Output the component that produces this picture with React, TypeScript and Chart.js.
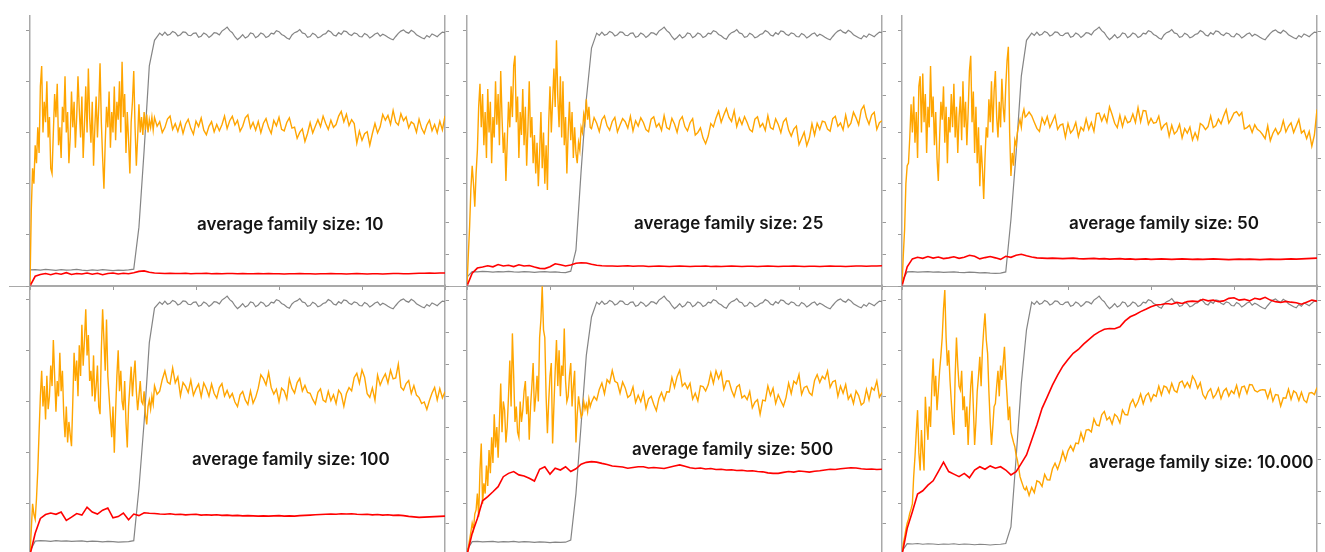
import React, { useEffect, useRef } from "react";
import { Chart, registerables } from "chart.js";

Chart.register(...registerables);

// ---------- axis ticks ----------
const X_TICKS = [0, 200, 400, 600, 800, 1000];
const LEFT_TICKS = [0, 20, 40, 60, 80, 100];
const RIGHT_TICKS = [0, 1, 2, 3, 4, 5, 6, 7, 8];

// ---------- panel labels ----------
const LABELS = [
  "average family size: 10",
  "average family size: 25",
  "average family size: 50",
  "average family size: 100",
  "average family size: 500",
  "average family size: 10.000",
];

// ---------- sampling of the series along the x axis (0..1000) ----------
const RED_STEP = 12.5;
const GREY_EARLY_STEP = 12.5;
const GREY_PLATEAU_START = 312.5;
const GREY_PLATEAU_STEP = 6.25;
const ORANGE_EARLY_STEP = 3.125;
const ORANGE_LATE_START = 300;
const ORANGE_LATE_STEP = 6.25;

// ---------- grey series ----------
const GREY_PLATEAU = [
  98.8, 97.9, 99.2, 98.0, 98.4, 99.5, 99.0, 97.7, 98.2, 99.3,
  99.1, 98.0, 97.8, 98.7, 98.9, 97.2, 97.6, 98.9, 98.3, 97.1,
  97.9, 99.0, 98.8, 98.1, 99.6, 100.3, 101.2, 99.8, 99.0, 97.4,
  96.3, 97.1, 98.2, 96.9, 97.5, 98.9, 98.6, 97.0, 97.7, 98.9,
  98.4, 97.1, 97.6, 98.8, 98.5, 99.8, 99.4, 98.3, 97.8, 96.9,
  96.4, 98.1, 99.0, 99.4, 100.2, 98.9, 98.6, 97.2, 97.5, 98.8,
  98.2, 97.0, 97.4, 98.3, 98.6, 99.8, 99.3, 98.1, 97.7, 99.0,
  98.3, 99.7, 99.4, 98.4, 97.9, 98.9, 98.6, 97.5, 97.4, 98.7,
  98.1, 96.9, 97.6, 98.5, 98.9, 97.6, 98.4, 97.9, 97.2, 96.6,
  96.2, 97.5, 98.7, 99.6, 100.1, 99.2, 98.8, 99.9, 99.3, 98.2,
  97.6, 97.0, 96.6, 97.9, 97.2, 98.5, 98.0, 97.4, 98.4, 99.2,
  99.0,
];
const GREY_EARLY_10 = [6.3, 6.4, 6.2, 6.5, 6.3, 6.1, 6.4, 6.2, 6.3, 6.5, 6.2, 6.0, 6.3, 6.1, 6.4, 6.2, 6.0, 6.2, 6.1, 6.3, 6.6, 23, 53, 86, 96];
const GREY_EARLY_25 = [3.5, 5.6, 5.5, 5.7, 5.6, 5.4, 5.6, 5.5, 5.7, 5.5, 5.4, 5.6, 5.5, 5.3, 5.5, 5.6, 5.4, 5.5, 5.3, 5.2, 5.8, 14, 45, 73, 93];
const GREY_EARLY_50 = [2.0, 5.5, 5.6, 5.4, 5.5, 5.6, 5.4, 5.5, 5.3, 5.4, 5.5, 5.3, 5.2, 5.4, 5.3, 5.1, 5.2, 5.0, 4.9, 5.0, 5.5, 26, 52, 82, 96];
const GREY_EARLY_100 = [1.5, 5.4, 5.6, 5.5, 5.3, 5.6, 5.4, 5.5, 5.3, 5.4, 5.5, 5.2, 5.4, 5.3, 5.1, 5.3, 5.2, 5.0, 5.1, 5.2, 5.6, 26, 52, 83, 96.5];
const GREY_EARLY_500 = [2.0, 5.2, 5.3, 5.1, 5.2, 5.3, 5.0, 5.2, 5.1, 5.3, 5.0, 5.2, 5.1, 4.9, 5.1, 5.0, 4.8, 5.0, 4.9, 5.0, 5.8, 24, 51, 78, 93];
const GREY_EARLY_10000 = [1.5, 4.4, 4.3, 4.5, 4.2, 4.4, 4.3, 4.1, 4.3, 4.2, 4.4, 4.1, 4.3, 4.2, 4.0, 4.2, 4.1, 3.9, 4.1, 4.2, 4.5, 11, 38, 67, 88];

// ---------- red series ----------
const RED_10 = [
  0, 3.8, 4.5, 4.9, 4.4, 5.0, 4.6, 5.2, 4.5, 4.9, 4.7, 5.1, 4.6, 5.0, 4.4, 4.9, 5.1, 4.7, 5.0, 4.8, 5.2, 5.7, 5.9, 5.4, 5.1,
  5.0, 4.9, 5.0, 4.9, 4.9, 5.0, 4.8, 4.9, 4.9, 5.0, 4.8, 4.9, 4.8, 4.9, 4.9, 4.8, 4.9, 4.8, 4.8, 4.9,
  4.8, 4.9, 4.8, 4.8, 4.7, 4.8, 4.8, 4.9, 4.8, 4.8, 4.7, 4.8, 4.8, 4.9, 4.8, 4.8, 4.7, 4.8, 4.9, 4.8,
  4.7, 4.8, 4.8, 4.7, 4.8, 4.9, 4.9, 4.8, 4.8, 4.9, 5.0, 5.0, 5.1, 5.0, 5.1, 5.1,
];
const RED_25 = [
  0, 5.0, 7.0, 7.4, 7.9, 7.5, 8.4, 7.8, 8.1, 7.6, 8.3, 7.8, 8.0, 7.4, 6.9, 6.8, 7.5, 8.7, 8.3, 7.8, 8.2, 8.9, 9.1, 9.0, 8.5,
  8.1, 7.9, 7.8, 7.8, 7.7, 7.8, 7.9, 7.7, 7.8, 7.8, 7.6, 7.7, 7.8, 7.7, 7.6, 7.7, 7.8, 7.7, 7.6, 7.7,
  7.7, 7.8, 7.6, 7.7, 7.6, 7.7, 7.8, 7.7, 7.6, 7.7, 7.7, 7.6, 7.7, 7.8, 7.7, 7.6, 7.7, 7.7, 7.8, 7.7,
  7.6, 7.7, 7.7, 7.6, 7.7, 7.8, 7.7, 7.7, 7.6, 7.7, 7.8, 7.8, 7.7, 7.8, 7.8, 7.9,
];
const RED_50 = [
  0, 7.5, 10.6, 11.2, 10.8, 11.5, 10.9, 11.3, 10.7, 11.0, 11.4, 10.8, 11.2, 12.0, 11.6, 10.6, 11.1, 11.5, 11.0, 10.4, 11.6, 11.2, 12.0, 12.4, 11.8,
  11.3, 11.0, 10.9, 10.8, 10.9, 10.8, 10.7, 10.8, 10.9, 10.7, 10.6, 10.7, 10.8, 10.6, 10.7, 10.5, 10.6, 10.7, 10.5, 10.6,
  10.4, 10.5, 10.6, 10.4, 10.5, 10.6, 10.5, 10.4, 10.5, 10.6, 10.5, 10.4, 10.5, 10.4, 10.5, 10.6, 10.5, 10.4, 10.3, 10.4,
  10.5, 10.4, 10.5, 10.4, 10.3, 10.4, 10.5, 10.4, 10.4, 10.5, 10.6, 10.5, 10.6, 10.7, 10.8, 10.9,
];
const RED_100 = [
  0, 8.5, 14.3, 15.8, 16.4, 15.9, 16.8, 13.5, 14.8, 16.2, 15.6, 18.7, 16.8, 16.0, 17.5, 18.4, 14.5, 15.0, 16.4, 13.8, 16.0, 15.4, 16.5, 16.3, 16.2,
  16.0, 15.9, 16.1, 15.8, 15.9, 15.7, 15.8, 15.9, 15.6, 15.7, 15.6, 15.7, 15.5, 15.6, 15.4, 15.5, 15.3, 15.4, 15.3, 15.2,
  15.3, 15.2, 15.3, 15.4, 15.2, 15.3, 15.2, 15.4, 15.5, 15.6, 15.7, 15.8, 15.9, 16.0, 15.9, 16.1, 16.0, 16.1, 15.9, 15.8,
  15.9, 15.7, 15.8, 15.6, 15.7, 15.5, 15.6, 15.4, 15.1, 14.9, 14.7, 14.8, 14.9, 15.0, 15.1, 15.2,
];
const RED_500 = [
  0, 8.5, 14.3, 21.2, 22.8, 24.7, 26.7, 30.6, 31.9, 32.6, 31.3, 30.9, 30.0, 28.9, 33.5, 34.5, 31.6, 33.9, 33.2, 34.5,
  32.6, 33.7, 35.5, 36.2, 36.5, 36.3, 35.8, 35.4, 34.8, 34.6, 34.4, 33.9, 34.2, 34.5, 34.5, 34.0, 34.2, 34.0, 33.8, 34.3,
  34.8, 35.2, 34.7, 34.1, 33.8, 34.0, 33.6, 33.8, 33.4, 33.5, 33.2, 33.3, 33.0, 33.1, 32.8, 32.9, 32.6, 32.5, 32.1, 31.9,
  31.9, 32.3, 32.6, 32.4, 32.8, 32.6, 32.4, 32.7, 32.9, 33.2, 33.5, 33.4, 33.7, 33.9, 34.1, 34.0, 33.7, 33.5, 33.6, 33.4,
  33.5,
];
const RED_10000 = [
  0, 10.4, 16.9, 23.8, 25.1, 27.3, 29.0, 32.6, 36.3, 32.6, 31.6, 30.6, 31.9, 30.2, 33.2, 34.5, 33.5, 34.8, 33.9, 34.5,
  33.2, 31.3, 32.6, 35.8, 39.1, 44.9, 50.8, 57.3, 61.8, 66.4, 70.3, 73.8, 76.4, 78.8, 80.3, 82.4, 84.2, 85.9, 87.2, 88.2,
  88.5, 88.4, 89.2, 91.5, 93.1, 94.0, 95.1, 96.0, 97.0, 97.7, 97.9, 98.3, 98.0, 98.7, 98.3, 99.0, 99.2, 99.0, 99.9, 99.3,
  99.6, 99.0, 99.3, 100.3, 100.5, 99.6, 99.9, 99.3, 100.3, 99.9, 100.7, 99.6, 99.0, 98.7, 99.1, 98.8, 98.6, 98.0, 98.8, 99.6,
  99.2,
];

// ---------- orange series: noisy start (dense) ----------
const ORANGE_EARLY_10 = [
  0, 30, 46, 40, 55, 48, 62, 52, 78, 86, 60, 72, 64, 80, 58, 66, 46, 44, 60, 75,
  66, 79, 55, 62, 50, 70, 64, 82, 60, 68, 48, 58, 76, 62, 72, 54, 66, 82, 69, 58,
  74, 50, 63, 78, 60, 85, 66, 56, 72, 47, 62, 74, 58, 70, 87, 64, 50, 38, 56, 70,
  62, 76, 54, 68, 60, 78, 57, 72, 65, 80, 60, 87.6, 66, 75, 52, 68, 57, 44, 64, 72,
  84, 62, 47, 58, 71, 60, 66, 59, 68, 61, 67, 60, 65, 62, 66, 61,
];
const ORANGE_EARLY_25 = [
  0, 12, 23, 38, 47, 40, 31, 44, 53, 70, 79, 62, 75, 55, 68, 50, 77, 60, 72, 48,
  66, 58, 80, 63, 75, 55, 84, 66, 52, 60, 41, 56, 72, 62, 78, 66, 86, 90, 64, 74,
  50, 68, 59, 77, 55, 70, 47, 62, 80, 58, 66, 48, 59, 44, 56, 39, 52, 68, 46, 60,
  40, 55, 37.5, 64, 78, 60, 72, 85, 70, 96, 74, 62, 82, 58, 80, 55, 66, 44, 60, 72,
  57, 68, 50, 62, 52, 48, 56, 53, 62, 60, 67, 64, 73, 65, 70, 62,
];
const ORANGE_EARLY_50 = [
  0, 12, 22, 40, 47, 48, 58, 71, 60, 74, 56, 68, 50, 78, 82, 60, 83, 64, 75, 52,
  70, 62, 86, 66, 74, 55, 68, 50, 41, 58, 72, 65, 78, 56, 70, 48, 66, 60, 75, 62,
  79, 58, 70, 52, 66, 74, 57, 80, 62, 72, 55, 68, 84, 90, 64, 76, 52, 70, 48, 62,
  39, 55, 46, 34, 50, 62, 58, 73, 64, 80, 60, 76, 84, 66, 58, 72, 62, 81, 70, 64,
  78, 88, 93.5, 60, 43, 52, 47, 57, 55, 60, 63, 65, 62, 67, 69, 66,
];
const ORANGE_EARLY_100 = [
  0, 10, 20, 16, 14, 22, 33, 48, 62, 72, 58, 66, 53, 70, 57, 62, 74, 66, 84, 70,
  56, 68, 62, 79, 64, 72, 55, 46, 58, 44, 52, 47, 42.5, 60, 79, 68, 76, 62, 82, 70,
  90, 74, 84, 96, 78, 86, 68, 72, 62, 78, 60, 66, 74, 58, 55, 80, 96, 84, 72, 92,
  70, 62, 54, 46, 58, 40, 56, 70, 80, 64, 72, 60, 56.6, 68, 52, 42, 58, 66, 73.6, 62,
  70, 76, 64, 56.6, 62, 68, 60, 59, 64, 55, 51, 58, 60.5, 57, 62, 59,
];
const ORANGE_EARLY_500 = [
  0, 3, 5.9, 9, 12.4, 10, 16, 17.6, 24, 15, 33, 43.6, 20, 28, 24, 35, 27, 41, 32, 46,
  36, 55, 42, 50, 38, 52, 67, 48, 60, 56.6, 44, 50, 62, 76, 58, 86.6, 70, 52, 58, 48,
  46, 60, 52, 56.6, 64, 68, 55, 62, 45, 58, 66, 75, 56, 62, 70, 60, 85, 92, 105, 88,
  85, 62, 47.6, 60, 70, 75, 43.6, 58, 72, 84, 66, 80, 62, 74, 70, 88.5, 68, 60, 62, 70,
  75, 58, 66, 72, 44, 55, 62, 58, 54, 55, 60, 57, 59, 56, 61, 58,
];
const ORANGE_EARLY_10000 = [
  0, 4.5, 7, 10, 12.4, 14, 16.3, 18, 20, 30.6, 38.4, 48, 56.6, 40, 33, 48.8, 40, 33, 61.8, 52,
  45, 58, 50, 65.8, 76.8, 62, 70, 56.6, 64, 72, 78, 85, 96, 103.5, 85, 74, 80, 68.4, 60, 52,
  46.9, 70, 85, 74, 66, 64.5, 72, 56.6, 62, 50, 58, 43, 55, 66, 72, 58, 43, 52, 64, 70,
  77.5, 66, 80, 88, 94.4, 84, 78.8, 64, 52, 43, 50, 58, 59.2, 66, 72, 62, 74, 68.4, 75, 81.4,
  70, 62, 52.7, 58, 48, 46, 44, 42.3, 39, 37, 34, 30.6, 29, 27.5, 26, 25.4,
];

// ---------- orange series: after the switch ----------
const ORANGE_LATE_10 = [
  65.8, 62.4, 64.2, 60.0, 61.9, 65.2, 66.4, 61.2, 63.4, 60.4,
  64.0, 59.6, 63.3, 65.1, 61.6, 59.3, 64.4, 62.3, 65.6, 60.9,
  59.1, 62.4, 64.2, 60.2, 63.1, 60.7, 63.0, 66.4, 61.5, 64.6,
  66.3, 62.9, 64.7, 60.5, 62.4, 65.7, 66.9, 61.7, 63.9, 60.9,
  64.3, 59.9, 63.6, 65.4, 61.9, 59.6, 64.7, 62.6, 65.9, 61.2,
  60.6, 63.9, 65.7, 61.7, 62.1, 57.7, 60.0, 61.4, 56.5, 59.6,
  63.8, 59.8, 62.4, 65.0, 62.3, 66.4, 63.5, 61.2, 64.8, 62.0,
  63.1, 66.4, 68.2, 64.2, 67.1, 62.7, 65.0, 63.5, 55.8, 60.5,
  56.9, 59.5, 60.3, 55.0, 59.6, 63.5, 59.8, 62.2, 67.0, 64.8,
  66.7, 63.2, 68.6, 64.0, 62.9, 67.3, 64.6, 66.1, 61.8, 64.1,
  63.3, 60.1, 65.2, 61.6, 59.6, 62.9, 64.8, 60.7, 63.1, 59.9,
  64.4, 61.0, 66.5,
];
const ORANGE_LATE_25 = [
  61.5, 65.8, 63.6, 60.4, 65.0, 66.5, 62.6, 60.9, 64.3, 65.9,
  60.2, 62.9, 65.4, 64.2, 61.7, 66.3, 60.6, 64.6, 62.5, 65.7,
  63.9, 61.1, 60.3, 65.2, 66.1, 62.2, 63.5, 60.8, 66.6, 61.9,
  61.2, 65.5, 63.3, 60.1, 64.7, 66.2, 62.3, 60.6, 63.8, 65.4,
  59.0, 60.0, 61.8, 57.8, 55.6, 58.6, 63.5, 62.2, 65.7, 68.3,
  64.0, 66.8, 69.3, 65.9, 64.3, 68.5, 62.3, 65.6, 63.1, 66.2,
  63.9, 61.1, 60.3, 65.2, 66.1, 62.2, 63.5, 60.8, 66.6, 61.9,
  61.2, 65.3, 63.1, 59.9, 64.2, 65.5, 60.9, 58.6, 61.3, 62.5,
  55.2, 57.6, 60.1, 54.9, 57.8, 63.4, 59.0, 63.6, 61.2, 64.4,
  64.1, 61.3, 60.5, 65.4, 66.3, 62.4, 63.7, 61.0, 66.8, 62.1,
  63.6, 67.9, 65.7, 63.0, 68.8, 70.5, 65.8, 63.2, 66.8, 67.9,
  61.2, 63.8, 64.6,
];
const ORANGE_LATE_50 = [
  66.5, 68.0, 66.5, 64.0, 61.6, 60.4, 65.7, 63.2, 66.2, 62.0,
  64.3, 66.7, 61.2, 62.9, 63.3, 58.1, 63.5, 59.8, 61.1, 63.9,
  58.4, 62.0, 60.7, 65.3, 61.2, 63.9, 60.5, 67.4, 67.6, 64.5,
  66.9, 64.0, 70.0, 67.0, 63.6, 61.9, 66.7, 62.3, 66.2, 63.8,
  64.3, 67.2, 63.9, 69.7, 64.2, 68.6, 68.4, 63.2, 65.5, 63.6,
  63.9, 66.4, 61.2, 62.8, 63.7, 58.5, 62.8, 59.4, 60.5, 63.2,
  57.9, 61.5, 59.7, 62.1, 57.1, 59.9, 57.3, 63.5, 62.7, 61.1,
  62.3, 66.4, 61.9, 62.7, 65.2, 63.4, 66.4, 68.9, 63.7, 65.4,
  67.6, 68.1, 66.5, 67.8, 61.4, 61.9, 62.8, 60.0, 63.0, 61.2,
  60.5, 59.2, 57.6, 62.6, 56.8, 59.7, 61.5, 59.3, 60.7, 64.6,
  60.2, 62.4, 63.8, 60.0, 62.5, 65.1, 59.8, 60.8, 57.6, 60.4,
  54.6, 59.0, 69.0,
];
const ORANGE_LATE_100 = [
  66.1, 62.8, 64.0, 68.6, 71.9, 67.6, 66.8, 73.1, 67.3, 69.6,
  62.2, 67.4, 65.9, 63.5, 68.3, 62.4, 64.9, 66.8, 61.9, 67.2,
  65.1, 62.0, 66.8, 63.1, 61.3, 65.4, 67.0, 62.1, 64.3, 61.5,
  63.1, 59.8, 58.0, 62.6, 63.9, 60.6, 58.8, 64.1, 59.3, 61.6,
  65.2, 70.4, 68.9, 66.5, 71.3, 65.4, 62.9, 64.8, 59.9, 65.2,
  64.1, 61.0, 68.8, 65.1, 63.3, 67.4, 69.0, 64.1, 66.3, 63.5,
  63.2, 60.8, 59.0, 63.6, 64.9, 60.5, 59.8, 64.0, 60.3, 62.6,
  59.2, 64.4, 62.9, 58.1, 63.1, 65.4, 64.1, 69.4, 71.0, 67.1,
  72.3, 69.5, 63.0, 61.6, 65.3, 60.5, 70.3, 66.4, 68.9, 70.8,
  67.2, 72.2, 68.8, 69.2, 74.6, 65.6, 64.4, 67.0, 68.2, 63.1,
  66.2, 62.5, 61.5, 59.2, 59.8, 56.9, 60.4, 63.3, 65.5, 60.6,
  65.0, 61.4, 63.8,
];
const ORANGE_LATE_500 = [
  59.7, 61.9, 60.5, 64.7, 67.2, 63.0, 68.5, 67.2, 72.1, 67.9,
  67.2, 63.2, 67.6, 65.3, 61.6, 62.5, 65.7, 59.6, 62.4, 59.9,
  63.5, 57.3, 61.0, 62.0, 58.9, 56.4, 61.2, 63.5, 60.4, 63.8,
  63.7, 69.4, 65.5, 69.7, 72.2, 66.0, 67.2, 65.0, 67.1, 60.9,
  63.2, 60.2, 66.1, 65.8, 64.1, 66.5, 71.2, 67.1, 71.9, 68.9,
  71.5, 64.8, 68.0, 68.0, 64.4, 61.9, 65.7, 66.5, 61.4, 62.3,
  60.7, 63.9, 57.5, 59.7, 60.7, 55.0, 60.5, 60.2, 66.1, 62.4,
  65.2, 59.2, 62.6, 60.3, 58.1, 61.5, 67.2, 63.1, 67.9, 66.9,
  70.5, 62.8, 65.5, 66.0, 63.4, 62.4, 68.2, 70.5, 67.4, 69.8,
  68.7, 71.9, 65.5, 67.7, 68.2, 62.0, 66.0, 63.2, 66.6, 60.9,
  62.7, 59.2, 64.1, 62.3, 58.6, 59.5, 64.7, 60.6, 65.4, 64.4,
  68.0, 61.7, 63.5,
];
const ORANGE_LATE_10000 = [
  26.6, 23.3, 26.4, 24.4, 29.0, 28.5, 26.8, 31.5, 29.4, 29.3,
  33.7, 35.9, 33.5, 36.5, 40.4, 37.0, 40.7, 42.7, 40.7, 43.7,
  43.5, 47.8, 44.7, 48.8, 49.0, 48.1, 53.2, 50.8, 50.5, 54.8,
  56.1, 52.8, 53.9, 51.2, 55.0, 54.0, 51.6, 56.7, 54.9, 54.7,
  59.0, 60.8, 57.9, 59.9, 62.9, 59.1, 62.2, 63.3, 60.2, 62.7,
  62.0, 66.0, 62.5, 66.0, 65.5, 63.3, 67.1, 64.3, 63.6, 67.3,
  68.0, 65.5, 67.4, 65.4, 69.9, 68.2, 65.1, 67.3, 62.7, 61.1,
  63.8, 65.0, 61.4, 62.8, 65.2, 61.1, 64.0, 65.1, 62.1, 64.2,
  63.1, 66.3, 62.0, 65.6, 66.0, 63.1, 66.6, 66.5, 64.3, 63.7,
  64.4, 64.6, 64.5, 61.3, 64.6, 60.1, 62.7, 62.5, 58.2, 61.4,
  61.3, 64.8, 60.8, 64.1, 63.3, 60.4, 63.6, 60.5, 59.6, 63.3,
  63.5, 62.7, 65.5,
];

// ---------- panels ----------
const GREY_EARLY = [GREY_EARLY_10, GREY_EARLY_25, GREY_EARLY_50, GREY_EARLY_100, GREY_EARLY_500, GREY_EARLY_10000];
const REDS = [RED_10, RED_25, RED_50, RED_100, RED_500, RED_10000];
const ORANGE_EARLY = [ORANGE_EARLY_10, ORANGE_EARLY_25, ORANGE_EARLY_50, ORANGE_EARLY_100, ORANGE_EARLY_500, ORANGE_EARLY_10000];
const ORANGE_LATE = [ORANGE_LATE_10, ORANGE_LATE_25, ORANGE_LATE_50, ORANGE_LATE_100, ORANGE_LATE_500, ORANGE_LATE_10000];

// layout (positions of the plot areas and of the labels)
const PLOT_W = 415;
const PLOT_H = 271;
const TICK_LEN = 4;
const PAD = 10;
const PANEL_POS = [
  { left: 30, top: 15 },
  { left: 467, top: 15 },
  { left: 902, top: 15 },
  { left: 30, top: 284 },
  { left: 467, top: 284 },
  { left: 902, top: 284 },
];
const LABEL_SIZE = 17;
const LABEL_POS = [
  { x: 197, base: 231 },
  { x: 634, base: 230 },
  { x: 1069, base: 230 },
  { x: 192, base: 466 },
  { x: 632, base: 456 },
  { x: 1089, base: 469 },
];

const seg = (values: number[], start: number, step: number) =>
  values.map((v, i) => ({ x: start + i * step, y: v }));

const AXIS_COLOR = "#a9a9a9";
const TICK_COLOR = "#9a9a9a";

function Panel({ idx }: { idx: number }) {
  const ref = useRef<HTMLCanvasElement | null>(null);
  useEffect(() => {
    if (!ref.current) return;
    const grey = [
      ...seg(GREY_EARLY[idx], 0, GREY_EARLY_STEP),
      ...seg(GREY_PLATEAU, GREY_PLATEAU_START, GREY_PLATEAU_STEP),
    ];
    const orange = [
      ...seg(ORANGE_EARLY[idx], 0, ORANGE_EARLY_STEP),
      ...seg(ORANGE_LATE[idx], ORANGE_LATE_START, ORANGE_LATE_STEP),
    ];
    const red = seg(REDS[idx], 0, RED_STEP);
    const gridOpts = {
      drawOnChartArea: false,
      drawTicks: true,
      tickLength: TICK_LEN,
      color: TICK_COLOR,
      lineWidth: 1,
    };
    const borderOpts = { display: true, color: AXIS_COLOR, width: 1.5 };
    const chart = new Chart(ref.current, {
      type: "line",
      data: {
        datasets: [
          { data: red, borderColor: "#ff0000", borderWidth: 1.6, pointRadius: 0, yAxisID: "y" },
          { data: orange, borderColor: "#ffa500", borderWidth: 1.4, pointRadius: 0, yAxisID: "y" },
          { data: grey, borderColor: "#858585", borderWidth: 1.2, pointRadius: 0, yAxisID: "y" },
        ],
      },
      options: {
        responsive: false,
        animation: false,
        events: [],
        layout: {
          autoPadding: false,
          padding: { left: PAD - TICK_LEN, right: PAD - TICK_LEN, top: 0, bottom: PAD - TICK_LEN },
        },
        plugins: { legend: { display: false }, tooltip: { enabled: false }, title: { display: false } },
        elements: { line: { tension: 0 } },
        scales: {
          x: {
            type: "linear",
            position: "bottom",
            min: X_TICKS[0],
            max: X_TICKS[X_TICKS.length - 1],
            afterBuildTicks: (s: any) => {
              s.ticks = X_TICKS.map((v) => ({ value: v }));
            },
            ticks: { display: false },
            grid: gridOpts,
            border: borderOpts,
          },
          y: {
            type: "linear",
            position: "left",
            min: 0,
            max: 105.9,
            afterBuildTicks: (s: any) => {
              s.ticks = LEFT_TICKS.map((v) => ({ value: v }));
            },
            ticks: { display: false },
            grid: gridOpts,
            border: borderOpts,
          },
          y2: {
            type: "linear",
            position: "right",
            min: 0,
            max: 8.535,
            afterBuildTicks: (s: any) => {
              s.ticks = RIGHT_TICKS.map((v) => ({ value: v }));
            },
            ticks: { display: false },
            grid: gridOpts,
            border: borderOpts,
          },
        },
      },
    } as any);
    return () => chart.destroy();
  }, [idx]);
  const pos = PANEL_POS[idx];
  return (
    <canvas
      ref={ref}
      width={PLOT_W + 2 * PAD}
      height={PLOT_H + PAD}
      style={{
        position: "absolute",
        left: pos.left - PAD,
        top: pos.top,
        width: PLOT_W + 2 * PAD,
        height: PLOT_H + PAD,
      }}
    />
  );
}

export default function App() {
  return (
    <div
      style={{
        position: "fixed",
        left: 0,
        top: 0,
        width: 1325,
        height: 552,
        overflow: "hidden",
        background: "#ffffff",
      }}
    >
      <div
        style={{
          position: "absolute",
          left: 9,
          top: 285.5,
          width: 1309,
          height: 1,
          background: AXIS_COLOR,
        }}
      />
      {PANEL_POS.map((_, i) => (
        <Panel key={i} idx={i} />
      ))}
      {LABELS.map((t, i) => (
        <div
          key={t}
          style={{
            position: "absolute",
            left: LABEL_POS[i].x,
            top: LABEL_POS[i].base - LABEL_SIZE * 0.864,
            fontFamily: "Inter, 'Noto Sans', sans-serif",
            fontWeight: 600,
            fontSize: LABEL_SIZE,
            lineHeight: `${LABEL_SIZE}px`,
            color: "#141414",
            whiteSpace: "nowrap",
          }}
        >
          {t}
        </div>
      ))}
    </div>
  );
}
